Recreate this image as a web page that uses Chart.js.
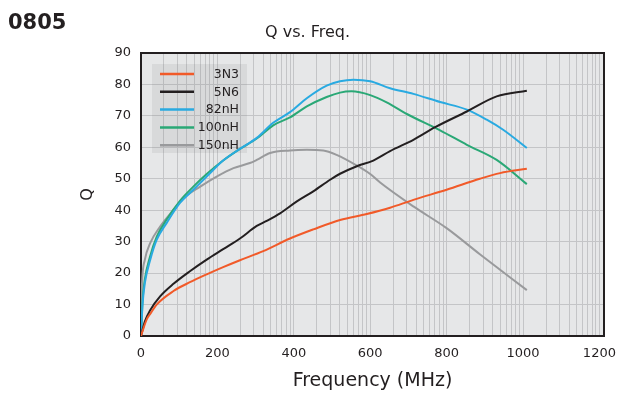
<!DOCTYPE html>
<html><head><meta charset="utf-8">
<script src="https://cdn.jsdelivr.net/npm/chart.js@4/dist/chart.umd.min.js"></script>
<style>
html,body{margin:0;padding:0;background:#fff;}
#wrap{position:relative;width:628px;height:394px;overflow:hidden;}
canvas{position:absolute;left:0;top:0;}
#code{position:absolute;left:8px;top:9px;font:bold 21px "DejaVu Sans";color:#231f20;line-height:26px;}
#ttl{position:absolute;left:265px;top:22px;font:16px "DejaVu Sans";color:#231f20;line-height:20px;}
</style></head><body>
<div id="wrap"><canvas id="c" width="628" height="394"></canvas><div id="code">0805</div><div id="ttl">Q vs. Freq.</div></div>
<script>
// ---- data ----
const seriesNames = ['3N3', '5N6', '82nH', '100nH', '150nH'];

const f3N3 = [0, 8, 15, 25, 41, 85, 128, 172, 215, 259, 320, 390, 451, 521, 591, 652, 713, 800, 887, 940, 1010];
const q3N3 = [0, 3, 5.3, 7.2, 10, 14.3, 17.1, 19.6, 21.9, 24.1, 27, 31, 33.9, 36.9, 38.8, 40.8, 43.3, 46.5, 50, 51.8, 53.2];

const f5N6 = [0, 10, 24, 50, 85, 128, 172, 215, 259, 303, 329, 364, 408, 451, 495, 521, 565, 608, 652, 713, 770, 853, 931, 1010];
const q5N6 = [0, 4.6, 8.2, 12.6, 16.6, 20.6, 24.3, 27.6, 31, 35, 36.6, 39, 42.8, 46, 49.7, 51.6, 54, 55.8, 58.8, 62.4, 66.4, 71.4, 76.2, 78];

const f82nH = [0, 4, 10, 24, 41, 67, 102, 137, 172, 215, 259, 303, 346, 390, 434, 486, 521, 556, 600, 652, 713, 783, 853, 905, 948, 1010];
const q82nH = [0, 10, 16.8, 24.2, 30.6, 35.9, 42.3, 46.5, 50.7, 55.8, 59.5, 63, 67.8, 71.2, 75.6, 79.6, 81, 81.5, 81, 78.8, 77, 74.4, 72, 68.8, 65.6, 59.8];

const f100nH = [0, 4, 10, 23, 41, 67, 102, 137, 172, 215, 259, 303, 346, 390, 434, 486, 521, 551, 600, 643, 696, 783, 853, 931, 1010];
const q100nH = [0, 11, 18, 25, 31.5, 37, 43, 47.5, 51.5, 55.8, 59.5, 62.8, 67, 69.5, 73, 76, 77.4, 77.8, 76.6, 74.3, 70.6, 65.4, 60.8, 56, 48.3];

const f150nH = [0, 2, 10, 24, 50, 85, 111, 155, 198, 242, 285, 303, 338, 390, 434, 477, 512, 565, 600, 626, 713, 800, 887, 1010];
const q150nH = [0, 14.6, 24.2, 29.5, 34.8, 40.1, 43.8, 47.5, 50.7, 53.4, 55, 56, 58.2, 59, 59.2, 59, 57.6, 54.2, 51.5, 48.8, 41.2, 34.3, 26, 14.6];

const seriesColors = ['#f15a29', '#231f20', '#29aae1', '#2aa876', '#999a9c'];

const xTickLabels = [0, 200, 400, 600, 800, 1000, 1200];
const yTickLabels = [0, 10, 20, 30, 40, 50, 60, 70, 80, 90];

// ---- build ----
const freqs = [f3N3, f5N6, f82nH, f100nH, f150nH];
const qs = [q3N3, q5N6, q82nH, q100nH, q150nH];
const datasets = seriesNames.map((name, i) => ({
  label: name,
  data: freqs[i].map((f, j) => ({x: f, y: qs[i][j]})),
  borderColor: seriesColors[i],
  backgroundColor: seriesColors[i],
  borderWidth: 2,
  pointRadius: 0,
  cubicInterpolationMode: 'monotone',
  fill: false
}));

// decorative log-style vertical grid repeated in each 200 MHz band
const xGrid = [];
for (let d = 0; d < xTickLabels.length - 1; d++) {
  for (let k = 1; k <= 9; k++) xGrid.push(xTickLabels[d] + 200 * Math.log10(k));
}
xGrid.push(xTickLabels[xTickLabels.length - 1]);

const FONT = '"DejaVu Sans", sans-serif';
const INK = '#231f20';

const plotBg = {
  id: 'plotBg',
  beforeDraw(chart) {
    const {ctx, chartArea: a} = chart;
    ctx.save();
    ctx.fillStyle = '#e6e7e8';
    ctx.fillRect(a.left, a.top, a.right - a.left, a.bottom - a.top);
    ctx.restore();
  },
  beforeDatasetsDraw(chart) {
    const {ctx, chartArea: a} = chart;
    ctx.save();
    // legend box
    const bx = a.left + 11, by = a.top + 11, bw = 95, bh = 89;
    ctx.fillStyle = 'rgba(120,120,125,0.13)';
    ctx.fillRect(bx, by, bw, bh);
    ctx.font = '12.5px ' + FONT;
    ctx.textAlign = 'right';
    ctx.textBaseline = 'middle';
    chart.data.datasets.forEach((ds, i) => {
      const y = by + 10 + i * 17.8;
      ctx.strokeStyle = ds.borderColor;
      ctx.lineWidth = 2.5;
      ctx.beginPath();
      ctx.moveTo(bx + 8, y);
      ctx.lineTo(bx + 42, y);
      ctx.stroke();
      ctx.fillStyle = INK;
      ctx.fillText(ds.label, bx + 87, y + 0.5);
    });
    // frame
    ctx.strokeStyle = INK;
    ctx.lineWidth = 2;
    ctx.strokeRect(a.left, a.top, a.right - a.left, a.bottom - a.top);
    ctx.restore();
  }
};

new Chart(document.getElementById('c'), {
  type: 'line',
  data: {datasets},
  options: {
    responsive: false,
    animation: false,
    layout: {padding: {left: 0, top: 53, right: 24, bottom: 0}},
    plugins: {legend: {display: false}, title: {display: false}, tooltip: {enabled: false}},
    scales: {
      x: {
        type: 'linear',
        min: 0,
        max: 1212,
        afterFit(s) { s.height = 58; },
        afterBuildTicks(s) { s.ticks = xGrid.map(v => ({value: v})); },
        grid: {color: '#c4c5c7', lineWidth: 1, drawTicks: false},
        border: {display: false},
        ticks: {
          autoSkip: false, maxRotation: 0, minRotation: 0, padding: 10,
          color: INK, font: {family: FONT, size: 13},
          callback: (v) => xTickLabels.some(t => Math.abs(t - v) < 1e-6) ? String(Math.round(v)) : ''
        },
        title: {display: true, text: 'Frequency (MHz)', color: INK, font: {family: FONT, size: 19}, padding: {top: 0, bottom: 2}}
      },
      y: {
        min: 0,
        max: 90,
        afterFit(s) { s.width = 141; },
        afterBuildTicks(s) { s.ticks = yTickLabels.map(v => ({value: v})); },
        grid: {color: '#c4c5c7', lineWidth: 1, drawTicks: false},
        border: {display: false},
        ticks: {padding: 10, color: INK, font: {family: FONT, size: 13}},
        title: {display: true, text: 'Q', color: INK, font: {family: FONT, size: 16}, padding: {top: 78, bottom: 0}}
      }
    }
  },
  plugins: [plotBg]
});
</script>
</body></html>
